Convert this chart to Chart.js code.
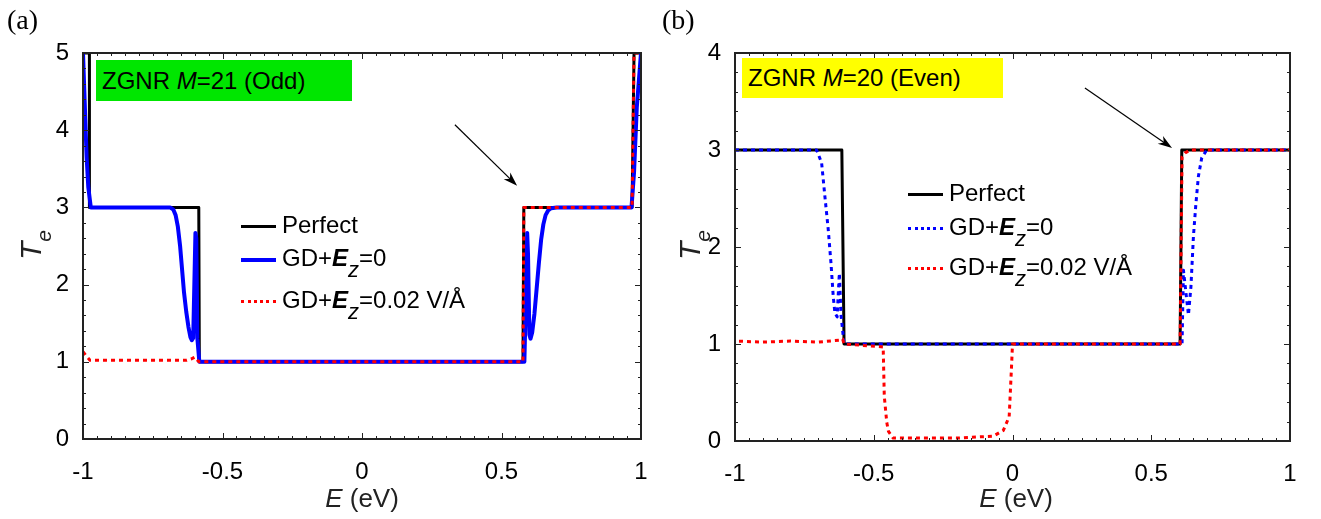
<!DOCTYPE html>
<html>
<head>
<meta charset="utf-8">
<script src="https://cdn.jsdelivr.net/npm/chart.js@4.4.1/dist/chart.umd.min.js"></script>
<style>
  body { margin: 0; background: #fff; }
  #wrap { position: relative; width: 1321px; height: 519px; overflow: hidden; font-family: Arial, "Liberation Sans", sans-serif; color: #000; }
  canvas { position: absolute; top: 0; }
  .txt { position: absolute; white-space: nowrap; line-height: 1; }
  .panel { font-family: "Liberation Serif", "Times New Roman", serif; font-size: 28px; }
  .box { display: flex; align-items: center; font-size: 24px; padding-left: 6px; box-sizing: border-box; }
  .leg { font-size: 24px; line-height: 28px; }
  .leg .s { display: inline-block; width: 35px; margin-right: 6px; vertical-align: middle; }
  .leg sub { font-size: 22px; font-style: italic; vertical-align: -11px; line-height: 0; }
  .ytitle { font-size: 30px; font-style: italic; color: #222; transform: rotate(-90deg); transform-origin: center; }
  .ytitle sub { font-size: 21px; vertical-align: -10px; line-height: 0; }
  .xtitle { font-size: 26px; color: #222; }
</style>
</head>
<body>
<div id="wrap">
  <canvas id="chartA" width="660" height="519" style="left:0"></canvas>
  <canvas id="chartB" width="661" height="519" style="left:660px"></canvas>

  <div class="txt panel" style="left:7px;top:6px">(a)</div>
  <div class="txt panel" style="left:662px;top:6px">(b)</div>

  <div class="txt box" style="left:96px;top:60px;width:256px;height:41px;background:#00e600">ZGNR&nbsp;<i>M</i>=21 (Odd)</div>
  <div class="txt box" style="left:742px;top:58px;width:261px;height:40px;background:#ffff00">ZGNR&nbsp;<i>M</i>=20 (Even)</div>

  <div class="txt leg" style="left:241px;top:211px"><span class="s" style="border-top:3px solid #000"></span>Perfect</div>
  <div class="txt leg" style="left:241px;top:244px"><span class="s" style="border-top:4px solid #0000ff"></span>GD+<b><i>E</i></b><sub>z</sub>=0</div>
  <div class="txt leg" style="left:241px;top:286px"><span class="s" style="border-top:3px dotted #ff0000"></span>GD+<b><i>E</i></b><sub>z</sub>=0.02 V/Å</div>

  <div class="txt leg" style="left:908px;top:179px"><span class="s" style="border-top:3px solid #000"></span>Perfect</div>
  <div class="txt leg" style="left:908px;top:213px"><span class="s" style="border-top:3px dotted #0000ff"></span>GD+<b><i>E</i></b><sub>z</sub>=0</div>
  <div class="txt leg" style="left:908px;top:253px"><span class="s" style="border-top:3px dotted #ff0000"></span>GD+<b><i>E</i></b><sub>z</sub>=0.02 V/Å</div>

  <div class="txt ytitle" style="left:6px;top:230px;width:50px;height:30px;text-align:center">T<sub>e</sub></div>
  <div class="txt ytitle" style="left:665px;top:230px;width:50px;height:30px;text-align:center">T<sub>e</sub></div>

  <div class="txt xtitle" style="left:312px;top:485px;width:100px;text-align:center"><i>E</i> (eV)</div>
  <div class="txt xtitle" style="left:966px;top:485px;width:100px;text-align:center"><i>E</i> (eV)</div>
</div>
<script>
// ---- panel (a): ZGNR M=21 ----
const aPerfectE = [-1, -0.977, -0.977, -0.585, -0.583, 0.577, 0.580, 0.968, 0.975, 1];
const aPerfectT = [5, 5, 3, 3, 1, 1, 3, 3, 5, 5];

const aBlueE = [-1, -0.987, -0.981, -0.972, -0.688, -0.676, -0.668, -0.660, -0.652, -0.645, -0.638, -0.630,
  -0.622, -0.615, -0.610, -0.605, -0.597, -0.594, -0.590, -0.583, 0.582, 0.588, 0.592, 0.595, 0.600, 0.604,
  0.610, 0.618, 0.626, 0.634, 0.642, 0.650, 0.658, 0.667, 0.678, 0.698, 0.966, 0.975, 0.985, 1];
const aBlueT = [5, 3.65, 3.26, 3, 3, 2.97, 2.9, 2.75, 2.5, 2.2, 1.9, 1.65,
  1.45, 1.32, 1.28, 1.31, 2.67, 2.6, 1.3, 1, 1, 1.9, 2.67, 2.4, 1.35, 1.3,
  1.38, 1.62, 1.95, 2.28, 2.58, 2.78, 2.9, 2.96, 2.99, 3, 3, 3.45, 4.3, 5];

const aRedE = [-1, -0.987, -0.975, -0.9, -0.75, -0.628, -0.610, -0.599, -0.590, -0.584, 0.577, 0.580, 0.968, 0.975, 1];
const aRedT = [1.13, 1.07, 1.02, 1.02, 1.02, 1.02, 1.04, 1.06, 1.02, 1, 1, 3, 3, 5, 5];

// ---- panel (b): ZGNR M=20 ----
const bPerfectE = [-1, -0.615, -0.607, 0.604, 0.610, 1];
const bPerfectT = [3, 3, 1, 1, 3, 3];

const bBlueE = [-1, -0.706, -0.688, -0.676, -0.664, -0.654, -0.646, -0.640, -0.632, -0.624, -0.618, -0.607,
  0.611, 0.616, 0.634, 0.643, 0.652, 0.661, 0.670, 0.682, 0.700, 1];
const bBlueT = [3, 3, 2.87, 2.52, 2.18, 1.83, 1.49, 1.32, 1.28, 1.73, 1.3, 1,
  1, 1.76, 1.3, 1.59, 2.11, 2.45, 2.73, 2.92, 3, 3];

const bRedE = [-1, -0.9, -0.8, -0.7, -0.62, -0.612, -0.607, -0.466, -0.462, -0.453, -0.447, -0.430,
  -0.3, -0.2, -0.069, -0.033, -0.012, -0.003, 0, 0.604, 0.611, 0.622, 0.64, 1];
const bRedT = [1.03, 1.02, 1.03, 1.02, 1.04, 1.05, 1, 0.97, 0.46, 0.19, 0.1, 0.03,
  0.03, 0.03, 0.05, 0.11, 0.25, 0.8, 1, 1, 2.93, 2.97, 3, 3];

const xTicks = [-1, -0.5, 0, 0.5, 1];

// annotation arrows, in data units (E, T)
const arrowA = { from: [0.333, 4.07], to: [0.556, 3.28] };
const arrowB = { from: [0.261, 3.64], to: [0.575, 3.02] };

const pts = (xs, ys) => xs.map((x, i) => ({ x, y: ys[i] }));

const line = (label, xs, ys, color, width, dash, order, dashOffset) => ({
  label,
  data: pts(xs, ys),
  showLine: true,
  borderColor: color,
  backgroundColor: color,
  borderWidth: width,
  borderDash: dash || [],
  borderDashOffset: dashOffset || 0,
  borderJoinStyle: 'round',
  pointRadius: 0,
  tension: 0,
  order,
});

// inward ticks, box frame and arrow
const framePlugin = {
  id: 'frame',
  afterDatasetsDraw(chart, args, opts) {
    const { ctx, chartArea: a, scales: { x, y } } = chart;
    ctx.save();
    ctx.strokeStyle = '#222';
    ctx.lineWidth = 1;
    ctx.beginPath();
    for (let v = -1; v <= 1.0001; v += 0.05) {
      const px = Math.round(x.getPixelForValue(v)) + 0.5;
      const major = Math.abs(v * 2 - Math.round(v * 2)) < 1e-6;
      const len = major ? 6 : 3;
      ctx.moveTo(px, a.bottom); ctx.lineTo(px, a.bottom - len);
      ctx.moveTo(px, a.top); ctx.lineTo(px, a.top + len);
    }
    for (let v = 0; v <= y.max + 0.0001; v += 0.2) {
      const py = Math.round(y.getPixelForValue(v)) + 0.5;
      const major = Math.abs(v - Math.round(v)) < 1e-6;
      const len = major ? 6 : 3;
      ctx.moveTo(a.left, py); ctx.lineTo(a.left + len, py);
      ctx.moveTo(a.right, py); ctx.lineTo(a.right - len, py);
    }
    ctx.stroke();
    ctx.lineWidth = 2;
    ctx.strokeRect(a.left, a.top, a.right - a.left, a.bottom - a.top);

    const ar = opts.arrow;
    if (ar) {
      const x0 = x.getPixelForValue(ar.from[0]), y0 = y.getPixelForValue(ar.from[1]);
      const x1 = x.getPixelForValue(ar.to[0]), y1 = y.getPixelForValue(ar.to[1]);
      const ang = Math.atan2(y1 - y0, x1 - x0);
      ctx.strokeStyle = '#000';
      ctx.fillStyle = '#000';
      ctx.lineWidth = 1.2;
      ctx.beginPath();
      ctx.moveTo(x0, y0);
      ctx.lineTo(x1 - 8 * Math.cos(ang), y1 - 8 * Math.sin(ang));
      ctx.stroke();
      ctx.beginPath();
      ctx.moveTo(x1, y1);
      ctx.lineTo(x1 - 15 * Math.cos(ang - 0.32), y1 - 15 * Math.sin(ang - 0.32));
      ctx.lineTo(x1 - 10 * Math.cos(ang), y1 - 10 * Math.sin(ang));
      ctx.lineTo(x1 - 15 * Math.cos(ang + 0.32), y1 - 15 * Math.sin(ang + 0.32));
      ctx.closePath();
      ctx.fill();
    }
    ctx.restore();
  },
};

function makeChart(id, datasets, yMax, yWidth, xHeight, padRight, arrow) {
  return new Chart(document.getElementById(id), {
    type: 'scatter',
    data: { datasets },
    plugins: [framePlugin],
    options: {
      responsive: false,
      animation: false,
      events: [],
      layout: { padding: { left: 0, right: padRight, top: 53, bottom: 0 } },
      scales: {
        x: {
          type: 'linear',
          min: -1,
          max: 1,
          afterBuildTicks: (s) => { s.ticks = xTicks.map((v) => ({ value: v })); },
          afterFit: (s) => { s.height = xHeight; },
          grid: { display: false },
          border: { display: false },
          ticks: {
            color: '#000',
            padding: 11,
            maxRotation: 0,
            font: { family: 'Arial, "Liberation Sans", sans-serif', size: 24 },
            callback: (v) => String(v),
          },
        },
        y: {
          type: 'linear',
          min: 0,
          max: yMax,
          afterFit: (s) => { s.width = yWidth; },
          grid: { display: false },
          border: { display: false },
          ticks: {
            stepSize: 1,
            color: '#000',
            padding: 6,
            font: { family: 'Arial, "Liberation Sans", sans-serif', size: 24 },
          },
        },
      },
      plugins: {
        legend: { display: false },
        tooltip: { enabled: false },
        frame: { arrow },
      },
    },
  });
}

makeChart('chartA', [
  line('Perfect', aPerfectE, aPerfectT, '#000000', 3, null, 3),
  line('GD+Ez=0', aBlueE, aBlueT, '#0000ff', 4, null, 2),
  line('GD+Ez=0.02 V/Å', aRedE, aRedT, '#ff0000', 3, [4, 4], 1),
], 5, 83, 80, 19, arrowA);

makeChart('chartB', [
  line('Perfect', bPerfectE, bPerfectT, '#000000', 3, null, 3),
  line('GD+Ez=0', bBlueE, bBlueT, '#0000ff', 3, [4, 4], 2),
  line('GD+Ez=0.02 V/Å', bRedE, bRedT, '#ff0000', 3, [4, 4], 1, 4),
], 4, 75, 78, 31, arrowB);
</script>
</body>
</html>
